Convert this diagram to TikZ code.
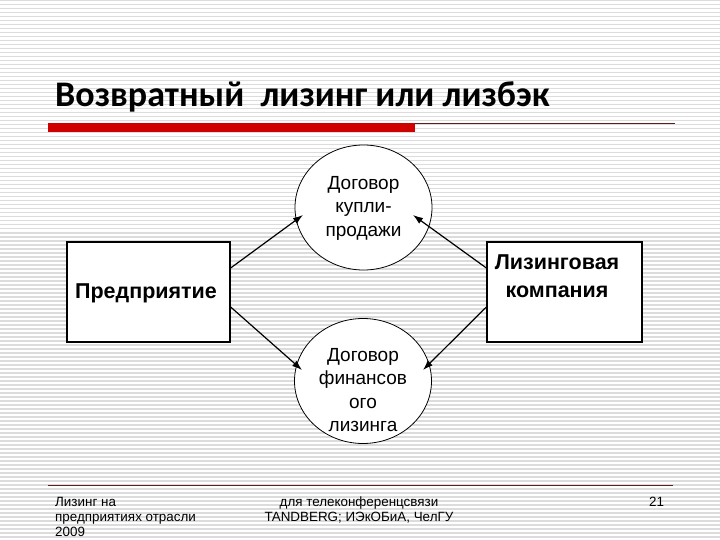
\documentclass[tikz,border=0pt]{standalone}
\usepackage{fontspec}
\setmainfont{Liberation Sans}
\newfontfamily\headfont{Carlito}
\usetikzlibrary{arrows.meta,calc,shapes.geometric}

\definecolor{barred}{HTML}{D00000}
\definecolor{rulebrown}{HTML}{5A1E1E}
\definecolor{stripegray}{HTML}{DCDCDC}

\tikzset{
  party/.style={draw,line width=1.3pt,fill=white,minimum height=100pt,inner sep=0pt},
  deal/.style={draw,ellipse,line width=0.8pt,fill=white,minimum width=137pt,minimum height=125pt,inner sep=0pt},
  dealtext/.style={align=center,inner sep=0pt,font=\fontsize{19}{23.5}\selectfont},
  partytext/.style={align=center,inner sep=0pt,font=\fontsize{21.5}{28}\selectfont\bfseries},
  flow/.style={-{Latex[length=10pt,width=7pt]},line width=1.2pt},
  foot/.style={inner sep=0pt,font=\fontsize{13.4}{15}\selectfont}
}

\begin{document}
\begin{tikzpicture}[x=1pt,y=-1pt]
  \useasboundingbox (0,0) rectangle (720,540);
  \fill[white] (0,0) rectangle (720,540);
  \foreach \s in {0,4,...,536}
    \fill[stripegray] (0,\s) rectangle (720,\s+1.5);

  \node (title) [anchor=base west,inner sep=0pt,font=\headfont\bfseries\fontsize{36}{40}\selectfont]
    at (55,107) {Возвратный\ \ лизинг или лизбэк};
  \fill[barred] (48,123) rectangle (415,132);
  \draw[rulebrown,line width=0.9pt] (415,123.5) -- (675,123.5);

  \node (firm) [party,minimum width=163pt] at (148.5,292) {};
  \node (firmtext) [partytext] at (146,293) {Предприятие};
  \node (lessor) [party,minimum width=155pt] at (564.5,292) {};
  \node (lessortext) [partytext] at (557,276) {Лизинговая\\компания};

  \node (sale) [deal] at (363.5,207.5) {};
  \node (saletext) [dealtext] at (363.5,208) {Договор\\купли-\\продажи};
  \node (fin) [deal] at (363,381) {};
  \node (fintext) [dealtext] at (363,390) {Договор\\финансов\\ого\\лизинга};

  \draw[flow] ([yshift=24pt]firm.east) -- ($(sale)+(-60.5,7.5)$);
  \draw[flow] ([yshift=24pt]lessor.west) -- ($(sale)+(49.5,7.5)$);
  \draw[flow] ([yshift=-15pt]firm.east) -- ($(fin)+(-61,-11)$);
  \draw[flow] ([yshift=-15pt]lessor.west) -- ($(fin)+(60,-11)$);

  \draw[rulebrown,line width=0.9pt] (48,485) -- (673,485);
  \node (footleft) [foot,anchor=north west,align=left] at (55,497)
    {Лизинг на\\предприятиях отрасли\\2009};
  \node (footmid) [foot,align=center] at (359,510)
    {для телеконференцсвязи\\TANDBERG; ИЭкОБиА, ЧелГУ};
  \node (pageno) [foot] at (656.5,502) {21};
\end{tikzpicture}
\end{document}
